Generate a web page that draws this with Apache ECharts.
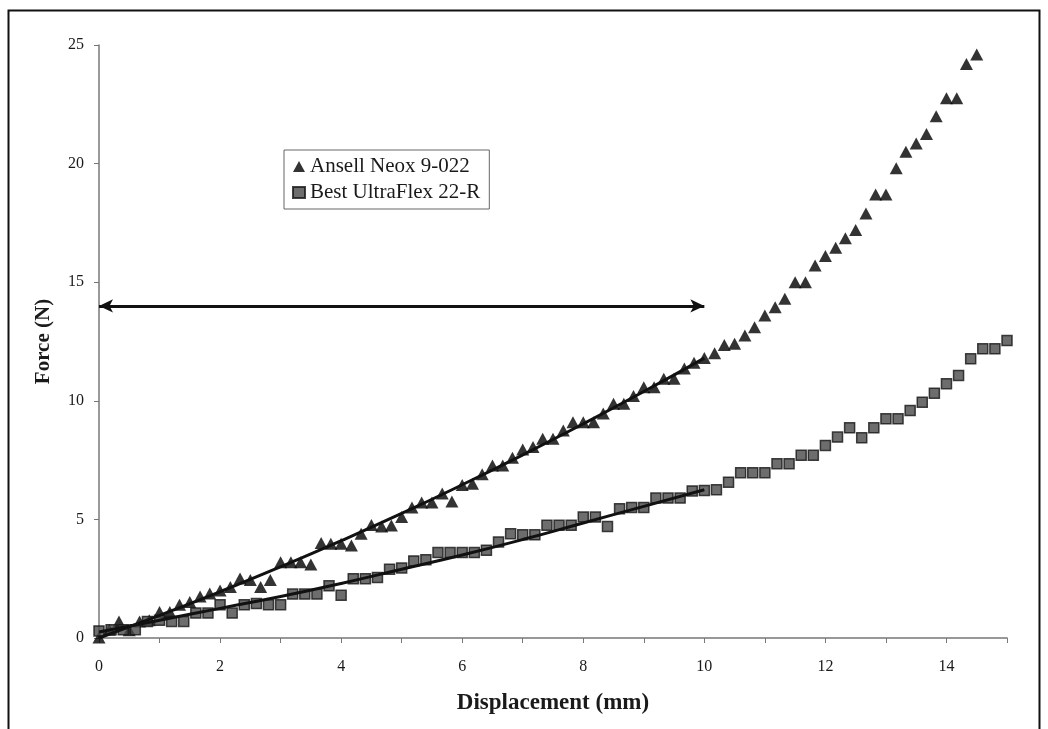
<!DOCTYPE html>
<html>
<head>
<meta charset="utf-8">
<script src="https://cdn.jsdelivr.net/npm/echarts@6/dist/echarts.min.js"></script>
<style>
  html, body { margin: 0; padding: 0; background: #fff; }
  #chart { width: 1048px; height: 729px; }
</style>
</head>
<body>
<div id="chart"></div>
<script>
// Ansell Neox 9-022 (triangles)
var ansellX = [0, 0.17, 0.33, 0.5, 0.67, 0.83, 1, 1.17, 1.33, 1.5, 1.67, 1.83, 2, 2.17, 2.33, 2.5, 2.67, 2.83,
  3, 3.17, 3.33, 3.5, 3.67, 3.83, 4, 4.17, 4.33, 4.5, 4.67, 4.83, 5, 5.17, 5.33, 5.5, 5.67, 5.83,
  6, 6.17, 6.33, 6.5, 6.67, 6.83, 7, 7.17, 7.33, 7.5, 7.67, 7.83, 8, 8.17, 8.33, 8.5, 8.67, 8.83,
  9, 9.17, 9.33, 9.5, 9.67, 9.83, 10, 10.17, 10.33, 10.5, 10.67, 10.83, 11, 11.17, 11.33, 11.5, 11.67, 11.83,
  12, 12.17, 12.33, 12.5, 12.67, 12.83, 13, 13.17, 13.33, 13.5, 13.67, 13.83, 14, 14.17, 14.33, 14.5];
var ansellY = [0.02, 0.35, 0.7, 0.33, 0.7, 0.75, 1.1, 1.1, 1.4, 1.52, 1.75, 1.88, 2.0, 2.15, 2.51, 2.44, 2.15, 2.44,
  3.19, 3.19, 3.19, 3.1, 4.0, 3.97, 3.97, 3.9, 4.4, 4.76, 4.7, 4.74, 5.1, 5.5, 5.71, 5.71, 6.09, 5.75,
  6.45, 6.5, 6.9, 7.27, 7.27, 7.6, 7.95, 8.05, 8.4, 8.4, 8.75, 9.1, 9.1, 9.1, 9.46, 9.88, 9.88, 10.2,
  10.57, 10.57, 10.93, 10.93, 11.36, 11.6, 11.8, 12.0, 12.35, 12.4, 12.75, 13.1, 13.6, 13.94, 14.3, 15.0, 15.0, 15.7,
  16.1, 16.45, 16.85, 17.2, 17.9, 18.7, 18.7, 19.8, 20.5, 20.85, 21.25, 22.0, 22.75, 22.75, 24.2, 24.6];

// Best UltraFlex 22-R (squares)
var bestX = [0, 0.2, 0.4, 0.6, 0.8, 1, 1.2, 1.4, 1.6, 1.8, 2, 2.2, 2.4, 2.6, 2.8, 3, 3.2, 3.4, 3.6, 3.8,
  4, 4.2, 4.4, 4.6, 4.8, 5, 5.2, 5.4, 5.6, 5.8, 6, 6.2, 6.4, 6.6, 6.8, 7, 7.2, 7.4, 7.6, 7.8,
  8, 8.2, 8.4, 8.6, 8.8, 9, 9.2, 9.4, 9.6, 9.8, 10, 10.2, 10.4, 10.6, 10.8, 11, 11.2, 11.4, 11.6, 11.8,
  12, 12.2, 12.4, 12.6, 12.8, 13, 13.2, 13.4, 13.6, 13.8, 14, 14.2, 14.4, 14.6, 14.8, 15];
var bestY = [0.3, 0.35, 0.35, 0.35, 0.7, 0.75, 0.7, 0.7, 1.05, 1.05, 1.4, 1.05, 1.4, 1.45, 1.4, 1.4, 1.85, 1.85, 1.85, 2.2,
  1.8, 2.5, 2.5, 2.55, 2.9, 2.95, 3.25, 3.3, 3.6, 3.6, 3.6, 3.6, 3.7, 4.05, 4.4, 4.35, 4.35, 4.75, 4.75, 4.75,
  5.1, 5.1, 4.7, 5.45, 5.5, 5.5, 5.9, 5.9, 5.9, 6.2, 6.22, 6.25, 6.57, 6.97, 6.97, 6.97, 7.35, 7.35, 7.7, 7.7,
  8.12, 8.47, 8.86, 8.44, 8.86, 9.24, 9.24, 9.59, 9.94, 10.32, 10.72, 11.07, 11.77, 12.19, 12.19, 12.54];

// fitted trend lines (0 - 10 mm)
var trendX = [0, 1, 2, 3, 4, 5, 6, 7, 8, 9, 10];
var ansellTrend = [0, 0.95, 1.95, 3.0, 4.1, 5.25, 6.46, 7.72, 9.03, 10.39, 11.8];
var bestTrend = [0.25, 0.75, 1.25, 1.75, 2.3, 2.9, 3.5, 4.15, 4.85, 5.55, 6.25];

// double arrow
var arrowY = 14;
var arrowX = [0, 10];

function pairs(xs, ys) {
  return xs.map(function (x, i) { return [x, ys[i]]; });
}

var font = 'Liberation Serif';
var chart = echarts.init(document.getElementById('chart'));

chart.setOption({
  backgroundColor: '#fff',
  animation: false,
  graphic: [{
    type: 'rect',
    shape: { x: 8.5, y: 10.5, width: 1031, height: 740 },
    style: { fill: 'none', stroke: '#111', lineWidth: 2 },
    silent: true
  }],
  grid: { left: 99, right: 41, top: 45, bottom: 91 },
  legend: {
    data: ['Ansell Neox 9-022', 'Best UltraFlex 22-R'],
    orient: 'vertical',
    left: 284,
    top: 150,
    padding: [6, 9, 6, 8],
    itemGap: 5,
    itemWidth: 12,
    itemHeight: 11,
    borderColor: '#666',
    borderWidth: 1,
    textStyle: { fontFamily: font, fontSize: 21, color: '#1a1a1a' }
  },
  xAxis: {
    type: 'value',
    min: 0, max: 15, interval: 1,
    name: 'Displacement (mm)',
    nameLocation: 'middle',
    nameGap: 54,
    nameTextStyle: { fontFamily: font, fontSize: 23, fontWeight: 'bold', color: '#1a1a1a' },
    axisLine: { lineStyle: { color: '#777', width: 1.5 } },
    axisTick: { length: 5, lineStyle: { color: '#777' } },
    axisLabel: {
      fontFamily: font, fontSize: 16, color: '#1a1a1a', margin: 21,
      formatter: function (v) { return v % 2 === 0 ? String(v) : ''; }
    },
    splitLine: { show: false }
  },
  yAxis: {
    type: 'value',
    min: 0, max: 25, interval: 5,
    name: 'Force (N)',
    nameLocation: 'middle',
    nameGap: 45,
    nameTextStyle: { fontFamily: font, fontSize: 21, fontWeight: 'bold', color: '#1a1a1a' },
    axisLine: { show: true, lineStyle: { color: '#777', width: 1.5 } },
    axisTick: { show: true, length: 5, lineStyle: { color: '#777' } },
    axisLabel: { fontFamily: font, fontSize: 16, color: '#1a1a1a', margin: 15 },
    splitLine: { show: false }
  },
  series: [
    {
      name: 'Ansell Neox 9-022',
      type: 'scatter',
      symbol: 'triangle',
      symbolSize: [13, 12],
      itemStyle: { color: '#000' },
      data: pairs(ansellX, ansellY),
      z: 3
    },
    {
      name: 'Best UltraFlex 22-R',
      type: 'scatter',
      symbol: 'rect',
      symbolSize: 10,
      itemStyle: { color: '#484848', borderColor: '#151515', borderWidth: 1.5 },
      data: pairs(bestX, bestY),
      z: 3
    },
    {
      name: 'Ansell trend',
      type: 'line',
      smooth: true,
      showSymbol: false,
      lineStyle: { color: '#111', width: 3 },
      data: pairs(trendX, ansellTrend),
      z: 4
    },
    {
      name: 'Best trend',
      type: 'line',
      smooth: true,
      showSymbol: false,
      lineStyle: { color: '#111', width: 3 },
      data: pairs(trendX, bestTrend),
      z: 4
    },
    {
      name: 'range',
      type: 'line',
      data: [],
      markLine: {
        silent: true,
        symbol: ['arrow', 'arrow'],
        symbolSize: [10, 14],
        label: { show: false },
        lineStyle: { color: '#111', width: 3, type: 'solid' },
        data: [[{ coord: [arrowX[0], arrowY] }, { coord: [arrowX[1], arrowY] }]]
      }
    }
  ]
});
</script>
</body>
</html>
